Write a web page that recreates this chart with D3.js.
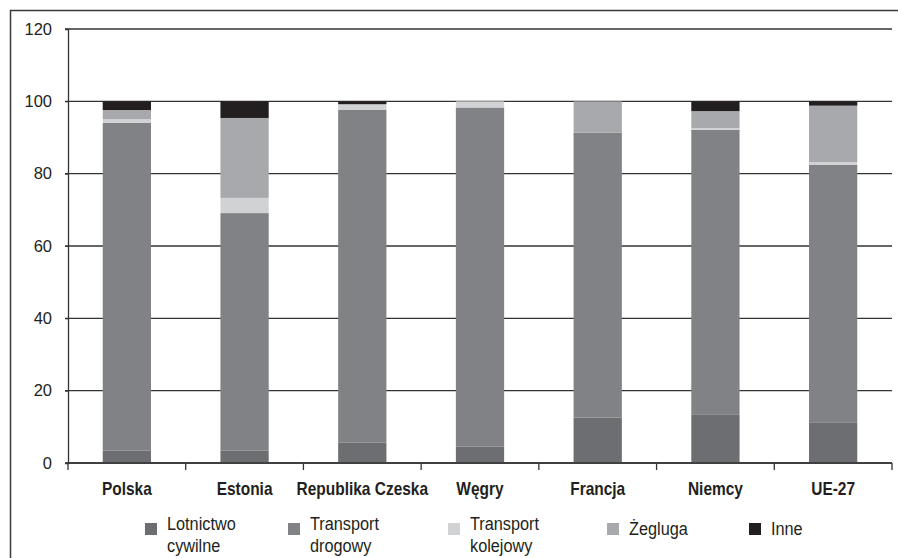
<!DOCTYPE html>
<html>
<head>
<meta charset="utf-8">
<script src="https://cdn.jsdelivr.net/npm/d3@7"></script>
<style>
  body { margin: 0; background: #fff; }
  svg { display: block; }
</style>
</head>
<body>
<svg id="chart" width="898" height="558"></svg>
<script>
// data (percent shares)
const countries = ["Polska", "Estonia", "Republika Czeska", "Węgry", "Francja", "Niemcy", "UE-27"];
const lotnictwo = [3.4, 3.4, 5.6, 4.5, 12.6, 13.3, 11.1];
const drogowy   = [90.7, 65.7, 92.1, 93.8, 78.7, 78.8, 71.3];
const kolejowy  = [1.0, 4.2, 1.5, 1.7, 0, 0.5, 0.8];
const zegluga   = [2.5, 22.1, 0, 0, 8.7, 4.7, 15.6];
const inne      = [2.4, 4.6, 0.8, 0, 0, 2.7, 1.2];
const yTicks = [0, 20, 40, 60, 80, 100, 120];

const seriesKeys = ["lot", "drog", "kol", "zeg", "inne"];
const seriesLabels = [["Lotnictwo", "cywilne"], ["Transport", "drogowy"], ["Transport", "kolejowy"], ["Żegluga"], ["Inne"]];
const colors = ["#6d6e71", "#808285", "#d1d2d4", "#a7a9ac", "#231f20"];

const rows = countries.map((c, i) => ({
  country: c, lot: lotnictwo[i], drog: drogowy[i], kol: kolejowy[i], zeg: zegluga[i], inne: inne[i]
}));

const svg = d3.select("#chart");
const margin = { top: 29, left: 68, right: 6, bottom: 95 };
const width = +svg.attr("width");
const height = +svg.attr("height");
const chartW = width - margin.left - margin.right;
const chartH = height - margin.top - margin.bottom;
const font = "'Liberation Sans', Arial, sans-serif";

// outer frame (runs off right and bottom edge like the scan)
svg.append("rect")
  .attr("x", 10.5).attr("y", 10.5)
  .attr("width", 900).attr("height", 560)
  .attr("fill", "none").attr("stroke", "#3a3a3a").attr("stroke-width", 1.5);

const chart = svg.append("g").attr("transform", `translate(${margin.left},${margin.top})`);

const x = d3.scaleBand().domain(countries).range([0, chartW]).paddingInner(0.59).paddingOuter(0.295);
const xTicks = d3.scaleBand().domain(countries).range([0, chartW]);
const y = d3.scaleLinear().domain([0, 120]).range([chartH, 0]);

// gridlines
chart.append("g")
  .selectAll("line")
  .data(yTicks)
  .join("line")
  .attr("x1", -3).attr("x2", chartW)
  .attr("y1", d => y(d)).attr("y2", d => y(d))
  .attr("stroke", "#333")
  .attr("stroke-width", 1.3);

// y axis
const yAxis = chart.append("g")
  .call(d3.axisLeft(y).tickValues(yTicks).tickSize(3).tickPadding(13));
yAxis.select(".domain").attr("stroke", "#333").attr("stroke-width", 1.3);
yAxis.selectAll(".tick line").attr("stroke", "#333");
yAxis.selectAll("text")
  .attr("font-family", font)
  .attr("font-size", 16.5)
  .attr("fill", "#231f20");

// stacked bars
const stack = d3.stack().keys(seriesKeys);
const stacked = stack(rows);

chart.append("g")
  .selectAll("g")
  .data(stacked)
  .join("g")
  .attr("fill", (d, i) => colors[i])
  .selectAll("rect")
  .data(d => d)
  .join("rect")
  .attr("x", d => x(d.data.country))
  .attr("y", d => y(d[1]))
  .attr("width", x.bandwidth())
  .attr("height", d => y(d[0]) - y(d[1]));

// x axis with ticks at band edges
const xAxis = chart.append("g").attr("transform", `translate(0,${chartH})`);
xAxis.append("line")
  .attr("x1", 0).attr("x2", chartW)
  .attr("stroke", "#333").attr("stroke-width", 1.3);
const edges = countries.map(c => xTicks(c)).concat([chartW]);
xAxis.selectAll(".edge")
  .data(edges)
  .join("line")
  .attr("class", "edge")
  .attr("x1", d => d).attr("x2", d => d)
  .attr("y1", 0).attr("y2", 7)
  .attr("stroke", "#333").attr("stroke-width", 1.3);
// condensed look: squeeze text horizontally
xAxis.selectAll(".lbl")
  .data(countries)
  .join("text")
  .attr("class", "lbl")
  .attr("transform", d => `translate(${x(d) + x.bandwidth() / 2},32) scale(0.86,1)`)
  .attr("text-anchor", "middle")
  .attr("font-family", font)
  .attr("font-weight", "bold")
  .attr("font-size", 18)
  .attr("fill", "#231f20")
  .text(d => d);

// legend
const legendX = [145, 288, 448, 607, 749];
const legend = svg.append("g");
seriesKeys.forEach((k, i) => {
  const g = legend.append("g").attr("transform", `translate(${legendX[i]},0)`);
  g.append("rect")
    .attr("x", 0).attr("y", 523)
    .attr("width", 12).attr("height", 12)
    .attr("fill", colors[i]);
  const lines = seriesLabels[i];
  g.selectAll("text")
    .data(lines)
    .join("text")
    .attr("transform", (d, j) => `translate(22,${lines.length === 1 ? 535 : 530 + j * 22}) scale(0.88,1)`)
    .attr("font-family", font)
    .attr("font-size", 18.5)
    .attr("fill", "#231f20")
    .text(d => d);
});
</script>
</body>
</html>
